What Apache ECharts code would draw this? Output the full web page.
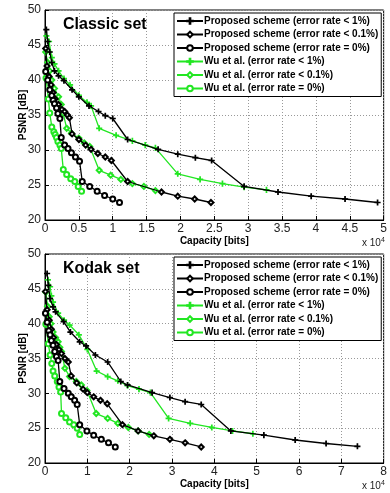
<!DOCTYPE html>
<html>
<head>
<meta charset="utf-8">
<script src="https://cdn.jsdelivr.net/npm/echarts@6/dist/echarts.min.js"></script>
<style>
  html, body { margin: 0; padding: 0; background: #fff; }
  #chart { width: 390px; height: 493px; }
</style>
</head>
<body>
<div id="chart"></div>
<script>
// series names (legend)
const seriesNames = [
  'Proposed scheme (error rate < 1%)',
  'Proposed scheme (error rate < 0.1%)',
  'Proposed scheme (error rate = 0%)',
  'Wu et al. (error rate < 1%)',
  'Wu et al. (error rate < 0.1%)',
  'Wu et al. (error rate = 0%)'
];
const panelTitles = ['Classic set', 'Kodak set'];
const yTicks = [20, 25, 30, 35, 40, 45, 50];

// Classic set, capacity in 1e4 bits, PSNR in dB
const classicProp1 = [[0.02,47.2],[0.04,45.5],[0.07,44.0],[0.1,42.5],[0.14,41.3],[0.2,40.6],[0.28,39.9],[0.4,38.6],[0.5,37.6],[0.65,36.3],[0.79,35.5],[0.89,34.9],[1.0,34.5],[1.22,31.5],[1.67,30.1],[1.96,29.4],[2.22,28.9],[2.46,28.5],[2.94,24.8],[3.44,24.0],[3.93,23.4],[4.43,23.0],[4.91,22.5]];
const classicProp01 = [[0.01,44.5],[0.03,42.0],[0.06,40.5],[0.09,39.3],[0.12,38.2],[0.15,37.3],[0.2,36.5],[0.25,35.8],[0.29,35.5],[0.33,35.0],[0.36,34.6],[0.4,32.3],[0.5,31.5],[0.6,30.7],[0.68,30.1],[0.78,29.5],[0.89,29.0],[0.98,28.5],[1.22,25.5],[1.72,24.0],[1.96,23.4],[2.21,23.0],[2.45,22.5]];
const classicProp0 = [[0.01,41.2],[0.04,40.0],[0.07,38.6],[0.1,37.8],[0.12,37.1],[0.14,36.6],[0.17,36.0],[0.19,35.2],[0.22,34.5],[0.24,31.8],[0.29,30.7],[0.34,30.2],[0.39,29.6],[0.45,29.0],[0.51,28.4],[0.55,25.5],[0.66,24.8],[0.77,24.1],[0.88,23.5],[1.0,23.0],[1.1,22.5]];
const classicWu1 = [[0.02,46.3],[0.06,45.5],[0.1,43.2],[0.14,42.3],[0.2,41.3],[0.28,40.2],[0.37,39.3],[0.5,37.8],[0.62,36.8],[0.68,36.3],[0.8,33.1],[1.05,32.1],[1.29,31.3],[1.48,30.7],[1.63,30.3],[1.96,26.6],[2.29,25.8],[2.62,25.2],[2.94,24.7],[3.27,24.3]];
const classicWu01 = [[0.01,44.0],[0.04,42.5],[0.07,41.3],[0.1,40.0],[0.14,38.8],[0.2,37.6],[0.24,36.5],[0.27,35.2],[0.32,33.1],[0.39,32.4],[0.5,31.7],[0.58,31.0],[0.66,30.5],[0.8,27.1],[0.97,26.4],[1.12,25.8],[1.29,25.2],[1.46,24.8],[1.63,24.2]];
const classicWu0 = [[0.015,40.3],[0.05,37.3],[0.07,35.3],[0.1,33.3],[0.13,32.6],[0.15,32.2],[0.17,31.8],[0.19,31.2],[0.22,30.7],[0.24,30.2],[0.27,27.2],[0.32,26.5],[0.38,25.9],[0.44,25.5],[0.49,24.8],[0.54,24.1]];

// Kodak set
const kodakProp1 = [[0.05,47.2],[0.08,45.5],[0.12,43.6],[0.19,42.4],[0.25,41.7],[0.44,40.3],[0.6,38.8],[0.82,37.4],[0.97,36.8],[1.19,35.5],[1.48,34.5],[1.79,31.7],[1.95,31.2],[2.53,30.1],[2.95,29.4],[3.31,28.8],[3.69,28.4],[4.39,24.6],[5.17,24.0],[5.91,23.3],[6.64,22.8],[7.38,22.4]];
const kodakProp01 = [[0.01,44.6],[0.05,42.0],[0.1,40.5],[0.15,39.2],[0.2,38.0],[0.27,37.0],[0.33,36.3],[0.39,35.7],[0.47,35.0],[0.55,34.5],[0.62,32.5],[0.75,31.5],[0.9,30.6],[1.0,30.1],[1.15,29.5],[1.31,29.0],[1.47,28.5],[1.83,25.5],[2.2,24.6],[2.57,23.9],[2.95,23.4],[3.31,22.9],[3.69,22.3]];
const kodakProp0 = [[0.01,41.5],[0.05,40.2],[0.09,39.0],[0.12,38.4],[0.15,37.6],[0.19,36.9],[0.23,36.0],[0.27,35.3],[0.31,34.7],[0.35,31.7],[0.45,30.7],[0.55,30.0],[0.62,29.5],[0.7,29.0],[0.76,28.4],[0.82,25.5],[0.99,24.6],[1.15,24.0],[1.33,23.4],[1.5,22.9],[1.66,22.3]];
const kodakWu1 = [[0.07,46.3],[0.12,45.3],[0.15,44.0],[0.19,43.1],[0.31,41.5],[0.45,40.5],[0.58,39.8],[0.8,38.4],[1.0,36.3],[1.22,33.2],[1.48,32.4],[1.72,31.8],[1.95,31.1],[2.22,30.6],[2.49,30.1],[2.92,26.4],[3.43,25.7],[3.94,25.1],[4.43,24.6],[4.91,24.2]];
const kodakWu01 = [[0.02,44.5],[0.06,42.5],[0.1,41.0],[0.14,40.0],[0.19,38.8],[0.25,38.0],[0.31,37.4],[0.35,36.6],[0.39,36.0],[0.47,33.6],[0.58,32.4],[0.74,31.7],[0.86,31.2],[0.99,30.4],[1.21,27.1],[1.48,26.4],[1.72,25.7],[1.97,25.1],[2.2,24.6],[2.46,24.1]];
const kodakWu0 = [[0.02,39.9],[0.08,37.1],[0.12,35.5],[0.16,34.3],[0.19,33.2],[0.23,32.5],[0.29,31.7],[0.33,30.9],[0.37,30.2],[0.39,27.1],[0.49,26.5],[0.58,25.9],[0.68,25.5],[0.76,25.0],[0.82,24.1]];

const panels = [
  [classicProp1, classicProp01, classicProp0, classicWu1, classicWu01, classicWu0],
  [kodakProp1, kodakProp01, kodakProp0, kodakWu1, kodakWu01, kodakWu0]
];

const GREEN = '#22e622';
const plusPath = 'path://M4.4,0H5.6V10H4.4Z M0,4.4H10V5.6H0Z';
const styles = [
  { color: '#000', symbol: plusPath, size: 5 },
  { color: '#000', symbol: 'emptyDiamond', size: 5 },
  { color: '#000', symbol: 'emptyCircle', size: 5 },
  { color: GREEN, symbol: plusPath, size: 5 },
  { color: GREEN, symbol: 'emptyDiamond', size: 5 },
  { color: GREEN, symbol: 'emptyCircle', size: 5 }
];

const chart = echarts.init(document.getElementById('chart'));
const font = 'Liberation Sans, Arial, Helvetica, sans-serif';
const grids = [
  { left: 45, top: 10, width: 342, height: 210 },
  { left: 45, top: 254, width: 342, height: 209 }
];
const xMax = [5, 8];
const xStep = [0.5, 1];

const series = [];
panels.forEach((sets, p) => {
  sets.forEach((d, i) => {
    series.push({
      name: seriesNames[i],
      type: 'line',
      xAxisIndex: p,
      yAxisIndex: p,
      data: d,
      symbol: styles[i].symbol,
      symbolSize: styles[i].size,
      showAllSymbol: true,
      lineStyle: { color: styles[i].color, width: 1.3 },
      itemStyle: { color: styles[i].color, borderColor: styles[i].color, borderWidth: 1.1 },
      emphasis: { disabled: true },
      animation: false,
      z: i < 3 ? 3 : 2
    });
  });
});

// y axis titles and the x 10^4 multipliers
const graphics = [];
grids.forEach(g => {
  graphics.push({
    type: 'text',
    x: 23,
    y: g.top + g.height / 2,
    rotation: Math.PI / 2,
    style: {
      text: 'PSNR [dB]',
      fontSize: 10,
      fontWeight: 'bold',
      fontFamily: font,
      fill: '#000',
      align: 'center',
      verticalAlign: 'middle'
    }
  });
  graphics.push({
    type: 'text',
    left: 362,
    top: g.top + g.height + 17,
    style: {
      text: '{b|x 10}{s|4}',
      rich: {
        b: { fontSize: 10, fill: '#222', fontFamily: font },
        s: { fontSize: 7, fill: '#222', fontFamily: font, verticalAlign: 'top', padding: [0, 0, 6, 0] }
      }
    }
  });
});

chart.setOption({
  backgroundColor: '#fff',
  textStyle: { fontFamily: font },
  title: panelTitles.map((t, p) => ({
    text: t,
    left: 58,
    top: grids[p].top + 2,
    textStyle: { fontSize: 16, fontWeight: 'bold', color: '#000', fontFamily: font }
  })),
  grid: grids.map(g => Object.assign({ show: true, borderColor: '#000', borderWidth: 1, backgroundColor: 'transparent' }, g)),
  legend: grids.map(g => ({
    orient: 'vertical',
    left: 174,
    top: g.top + 3,
    data: seriesNames,
    itemWidth: 26,
    itemHeight: 7,
    itemGap: 3.5,
    padding: [3, 3, 3, 2],
    backgroundColor: '#fff',
    borderColor: '#000',
    borderWidth: 1,
    borderRadius: 0,
    selectedMode: false,
    textStyle: { fontSize: 10, fontWeight: 'bold', color: '#000', fontFamily: font, padding: [0, 0, 0, -4] }
  })),
  xAxis: [0, 1].map(p => ({
    type: 'value',
    gridIndex: p,
    min: 0,
    max: xMax[p],
    interval: xStep[p],
    name: 'Capacity [bits]',
    nameLocation: 'middle',
    nameGap: 15,
    nameTextStyle: { fontSize: 10, fontWeight: 'bold', color: '#000', fontFamily: font },
    axisLine: { show: true, lineStyle: { color: '#000' } },
    axisTick: { show: true, inside: true, length: 4, lineStyle: { color: '#000' } },
    axisLabel: { fontSize: 12, color: '#222', margin: 3, fontFamily: font },
    splitLine: { show: true, lineStyle: { color: '#999', type: [1, 2], width: 1 } }
  })),
  yAxis: [0, 1].map(p => ({
    type: 'value',
    gridIndex: p,
    min: yTicks[0],
    max: yTicks[yTicks.length - 1],
    interval: 5,
    axisLine: { show: true, lineStyle: { color: '#000' } },
    axisTick: { show: true, inside: true, length: 4, lineStyle: { color: '#000' } },
    axisLabel: { fontSize: 12, color: '#222', margin: 4, fontFamily: font },
    splitLine: { show: true, lineStyle: { color: '#999', type: [1, 2], width: 1 } }
  })),
  graphic: graphics,
  series: series
});
</script>
</body>
</html>
